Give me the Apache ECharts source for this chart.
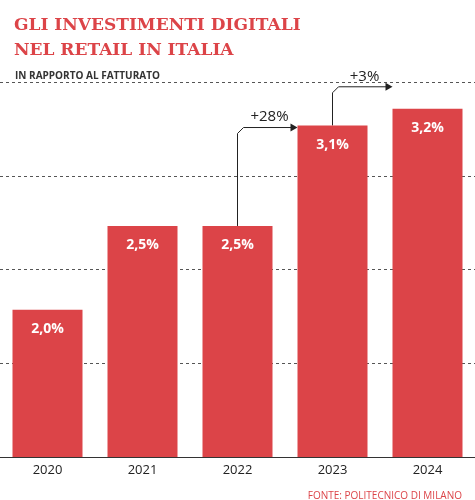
<!DOCTYPE html>
<html><head><meta charset="utf-8">
<script src="https://cdn.jsdelivr.net/npm/echarts@6/dist/echarts.min.js"></script>
<style>body{margin:0}#c{width:475px;height:500px}</style>
</head><body><div id="c"></div>
<script>
// dati
const years = ['2020', '2021', '2022', '2023', '2024']
const values = [2.0, 2.5, 2.5, 3.1, 3.2]
const labels = ['2,0%', '2,5%', '2,5%', '3,1%', '3,2%']
// variazioni: [da, a, testo]
const changes = [[2, 3, '+28%'], [3, 4, '+3%']]

const red = '#dc4448'
const chart = echarts.init(document.getElementById('c'))
chart.setOption({
    animation: false,
    title: [
        { text: 'GLI INVESTIMENTI DIGITALI\nNEL RETAIL IN ITALIA', left: 9, top: 8,
          textStyle: { fontFamily: 'DejaVu Serif', fontWeight: 'bold', fontSize: 17, color: red, lineHeight: 25 } },
        { text: 'IN RAPPORTO AL FATTURATO', left: 10, top: 66,
          textStyle: { fontFamily: 'Open Sans', fontWeight: 'bold', fontSize: 10, color: '#333' } },
        { text: 'FONTE: POLITECNICO DI MILANO', right: 8, top: 486,
          textStyle: { fontFamily: 'Open Sans', fontWeight: 'normal', fontSize: 10, color: red } }
    ],
    grid: { left: 0, right: 0, top: 82, bottom: 43 },
    xAxis: {
        type: 'category', data: years,
        axisTick: { show: false },
        axisLine: { lineStyle: { color: '#333' } },
        axisLabel: { color: '#222', fontSize: 13, fontFamily: 'Open Sans', margin: 7 }
    },
    yAxis: {
        type: 'value', min: 1.12, max: 3.36, interval: 0.56,
        axisLabel: { show: false },
        splitLine: { lineStyle: { type: [3, 3], color: '#555' } }
    },
    series: [{
        type: 'bar', data: values, barWidth: 70,
        itemStyle: { color: red },
        label: { show: true, position: 'insideTop', distance: 12, color: '#fff',
                 fontWeight: 'bold', fontSize: 14, fontFamily: 'Open Sans',
                 formatter: p => labels[p.dataIndex] }
    }]
})

// frecce tra le barre
const graphic = []
changes.forEach(([a, b, txt], i) => {
    const pa = chart.convertToPixel({ seriesIndex: 0 }, [a, values[a]])
    const pb = chart.convertToPixel({ seriesIndex: 0 }, [b, values[b]])
    const yTop = pb[1] + (i === 0 ? 2 : -22)
    const xEnd = pb[0] - 35 - 6
    graphic.push({ type: 'polyline', shape: { points: [[pa[0], pa[1]], [pa[0], yTop + 6], [pa[0] + 6, yTop], [xEnd, yTop]] },
                   style: { stroke: '#222', fill: null, lineWidth: 1 } })
    graphic.push({ type: 'polygon', shape: { points: [[xEnd + 6, yTop], [xEnd - 1, yTop - 4], [xEnd - 1, yTop + 4]] },
                   style: { fill: '#222' } })
    graphic.push({ type: 'text', x: (pa[0] + xEnd) / 2 + 5, y: yTop - 18,
                   style: { text: txt, fill: '#222', fontSize: 15, fontFamily: 'Open Sans', align: 'center' } })
})
chart.setOption({ graphic })
</script>
</body></html>
